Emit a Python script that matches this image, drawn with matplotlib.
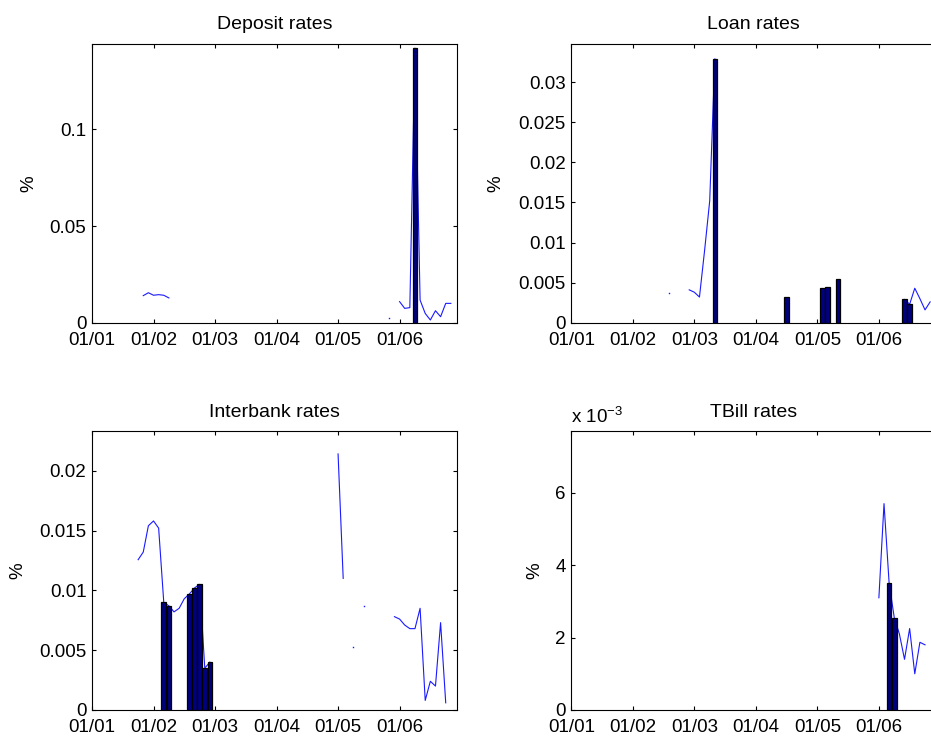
import matplotlib
matplotlib.use("Agg")
import numpy as np
import matplotlib.pyplot as plt
from matplotlib.ticker import FixedLocator, FuncFormatter

plt.rcParams["font.family"] = ["Liberation Sans", "DejaVu Sans"]
plt.rcParams["mathtext.fontset"] = "custom"
plt.rcParams["mathtext.rm"] = "Liberation Sans"

# x axis: months counted from January 2001 (month 0)
TICK_MONTHS = [0, 12, 24, 36, 48, 60]
TICK_LABELS = ["01/01", "01/02", "01/03", "01/04", "01/05", "01/06"]
X_END = 71.2

# Monthly series, stored as (first month, values) runs; gaps are missing data
deposit_segments = [
    (10, [0.0140, 0.0155, 0.0142, 0.0145, 0.0142, 0.0128]),
    (58, [0.0023]),
    (60, [0.0109, 0.0074, 0.0078, 0.1420, 0.0117, 0.0048, 0.0014,
          0.0062, 0.0031, 0.0100, 0.0100]),
]
deposit_bar_months = [63]
deposit_bar_values = [0.1420]

loan_segments = [
    (19, [0.0037]),
    (23, [0.0041, 0.0038, 0.0032, 0.0090, 0.0152, 0.0329]),
    (65, [0.0029, 0.0023, 0.0043, 0.0030, 0.0016, 0.0026]),
]
loan_bar_months = [28, 42, 49, 50, 52, 65, 66]
loan_bar_values = [0.0329, 0.0032, 0.0043, 0.0045, 0.0054, 0.0029, 0.0023]

interbank_segments = [
    (9, [0.01256, 0.0132, 0.0154, 0.0158, 0.0152, 0.0090, 0.0087, 0.0082,
         0.0085, 0.0093, 0.0097, 0.0102, 0.0105, 0.0035, 0.0040]),
    (48, [0.0214, 0.0110]),
    (51, [0.0053]),
    (53, [0.0087]),
    (59, [0.0078, 0.0076, 0.0071, 0.0068, 0.0068, 0.0085, 0.0008, 0.0024,
          0.0020, 0.0073, 0.0006]),
]
interbank_bar_months = [14, 15, 19, 20, 21, 22, 23]
interbank_bar_values = [0.0090, 0.0087, 0.0097, 0.0102, 0.0105, 0.0035, 0.0040]

tbill_segments = [
    (60, [0.0031, 0.0057, 0.0035, 0.00255, 0.0021, 0.0014, 0.00225, 0.0010,
          0.00187, 0.0018]),
]
tbill_bar_months = [62, 63]
tbill_bar_values = [0.0035, 0.00255]

LINE_COLOR = (0.1, 0.1, 1.0)
BAR_COLOR = "#000080"
FS = 13.5
TITLE_FS = 14

W, H = 931, 738
fig = plt.figure(figsize=(W / 100, H / 100), dpi=100)


def px_axes(left, top, right, bottom):
    return fig.add_axes([left / W, 1 - bottom / H, (right - left) / W, (bottom - top) / H])


def draw_panel(ax, title, segments, bar_months, bar_values, ylim, yticks,
               scale=1.0, label_x=-0.15):
    for start, vals in segments:
        months = np.arange(start, start + len(vals))
        if len(vals) == 1:
            ax.plot(months, vals, ls="none", marker="s", ms=1.0, mew=0,
                    color=LINE_COLOR, zorder=2)
        else:
            ax.plot(months, vals, color=LINE_COLOR, lw=0.8, zorder=2)
    ax.bar(bar_months, bar_values, width=0.9, color=BAR_COLOR,
           edgecolor="black", linewidth=0.9, zorder=3)
    ax.set_xlim(0, X_END)
    ax.set_ylim(*ylim)
    ax.xaxis.set_major_locator(FixedLocator(TICK_MONTHS))
    ax.set_xticklabels(TICK_LABELS)
    ax.yaxis.set_major_locator(FixedLocator(yticks))
    ax.yaxis.set_major_formatter(FuncFormatter(lambda v, _: f"{round(v * scale, 6):g}"))
    ax.tick_params(direction="in", length=3, width=0.8, top=True, right=True,
                   labelsize=FS, colors="black")
    ax.tick_params(axis="x", pad=6.5)
    ax.tick_params(axis="y", pad=4)
    for sp in ax.spines.values():
        sp.set_linewidth(0.8)
    ax.set_title(title, fontsize=TITLE_FS, pad=10.5)
    ax.set_ylabel("%", fontsize=FS)
    ax.yaxis.set_label_coords(label_x, 0.5)


ax1 = px_axes(92, 43.7, 457, 322.7)
draw_panel(ax1, "Deposit rates", deposit_segments, deposit_bar_months,
           deposit_bar_values, (0, 0.1443), [0, 0.05, 0.1], label_x=-0.151)

ax2 = px_axes(571.3, 43.7, 936.3, 322.7)
draw_panel(ax2, "Loan rates", loan_segments, loan_bar_months, loan_bar_values,
           (0, 0.0348), [0, 0.005, 0.01, 0.015, 0.02, 0.025, 0.03], label_x=-0.182)

ax3 = px_axes(92, 431.2, 457, 710)
draw_panel(ax3, "Interbank rates", interbank_segments, interbank_bar_months,
           interbank_bar_values, (0, 0.0233), [0, 0.005, 0.01, 0.015, 0.02],
           label_x=-0.181)

ax4 = px_axes(571.3, 431.2, 936.3, 710)
draw_panel(ax4, "TBill rates", tbill_segments, tbill_bar_months,
           tbill_bar_values, (0, 0.0077), [0, 0.002, 0.004, 0.006],
           scale=1e3, label_x=-0.077)
ax4.annotate(r"x 10$^{\mathregular{-3}}$", xy=(0, 1), xycoords="axes fraction",
             xytext=(0, 6), textcoords="offset points", ha="left",
             va="baseline", fontsize=FS)

fig.savefig("out.png", dpi=100)
